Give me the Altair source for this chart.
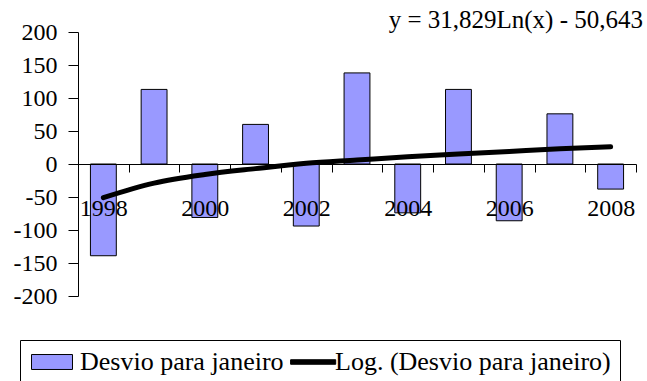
import altair as alt
import pandas as pd

years = ["1998", "1999", "2000", "2001", "2002", "2003", "2004", "2005", "2006", "2007", "2008"]
desvio = [-139, 113, -81, 60, -94, 138, -74, 113, -86, 76, -38]
trend = [-51, -29, -16, -7, 1, 6, 11, 15, 19, 23, 26]
series_names = ["Desvio para janeiro", "Log. (Desvio para janeiro)"]
series_colors = ["#9999FF", "#000000"]
series_shapes = ["M-2,-0.73H2V0.73H-2Z", "M-1.6,-0.22H2.8V0.22H-1.6Z"]
y_ticks = [-200, -150, -100, -50, 0, 50, 100, 150, 200]
equation = "y = 31,829Ln(x) - 50,643"

FONT = "Liberation Serif"

df = pd.DataFrame({"ano": years, "desvio": desvio, "tendencia": trend})
df_leg = pd.DataFrame({"serie": series_names})

x_axis = alt.Axis(
    title=None, labelAngle=0, offset=-132, tickBand="extent", tickSize=8,
    labelPadding=24, labelExpr="toNumber(datum.value) % 2 == 0 ? datum.label : ''",
    zindex=1, domainColor="black", tickColor="black", labelColor="black",
    labelFont=FONT, labelFontSize=24, labelBaseline="top",
)
y_axis = alt.Axis(
    title=None, values=y_ticks, grid=False, tickSize=10, labelPadding=11,
    labelOverlap=False, labelExpr="toString(datum.value)",
    domainColor="black", tickColor="black", labelColor="black",
    labelFont=FONT, labelFontSize=24,
)
x_scale = alt.Scale(paddingInner=0, paddingOuter=0)
y_scale = alt.Scale(domain=[-200, 200], nice=False, zero=False)

bars = alt.Chart(df).mark_bar(
    width={"band": 0.51}, fill="#9999FF", stroke="black", strokeWidth=1
).encode(
    x=alt.X("ano:O", sort=years, scale=x_scale, axis=x_axis),
    y=alt.Y("desvio:Q", scale=y_scale, axis=y_axis),
)

line = alt.Chart(df).mark_line(
    color="black", strokeWidth=5, interpolate="monotone", strokeCap="round"
).encode(
    x=alt.X("ano:O", sort=years, scale=x_scale, axis=x_axis),
    y=alt.Y("tendencia:Q", scale=y_scale, axis=y_axis),
)

legend = alt.Legend(
    title=None, orient="none", direction="horizontal", legendX=-58, legendY=308,
    padding=9, strokeColor="black", fillColor="white",
    labelFont=FONT, labelFontSize=26, labelColor="black", labelLimit=0,
    symbolSize=420, symbolStrokeColor="black", symbolStrokeWidth=1,
    symbolOffset=10, labelOffset=15, columnPadding=0,
)

leg = alt.Chart(df_leg).mark_point(filled=True, opacity=1).encode(
    color=alt.Color("serie:N", scale=alt.Scale(domain=series_names, range=series_colors), legend=legend),
    shape=alt.Shape("serie:N", scale=alt.Scale(domain=series_names, range=series_shapes), legend=legend),
).transform_filter("false")

eq = alt.Chart(pd.DataFrame({"t": [equation]})).mark_text(
    align="right", baseline="middle", font=FONT, fontSize=25, color="black"
).encode(x=alt.value(565), y=alt.value(-12), text="t:N")

chart = alt.layer(bars, line, leg, eq).properties(
    width=558, height=264,
    padding={"left": 78, "top": 32, "right": 11, "bottom": 85},
    autosize=alt.AutoSizeParams(type="none"),
).configure_view(stroke=None)

chart.save("out.html", embed_options={"renderer": "svg", "actions": False})
